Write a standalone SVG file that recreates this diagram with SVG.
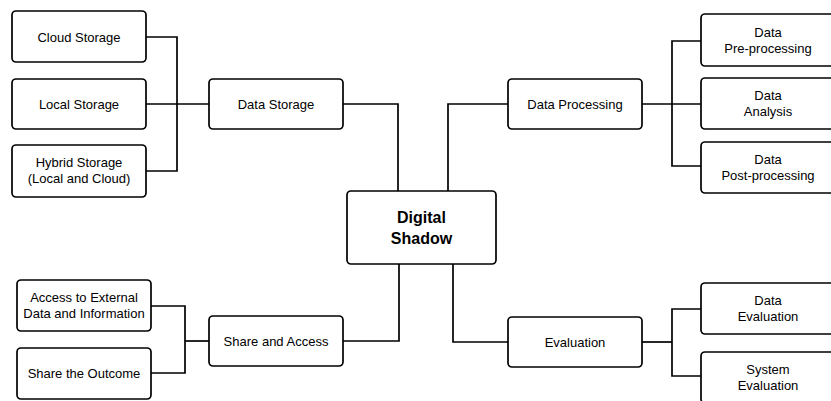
<svg xmlns="http://www.w3.org/2000/svg" width="831" height="401" viewBox="0 0 831 401">
  <style>
    .box { fill: #ffffff; stroke: #000000; stroke-width: 1.7; }
    .wire { fill: none; stroke: #000000; stroke-width: 1.7; stroke-linejoin: miter; }
    .lbl { font-family: "Liberation Sans", Arial, sans-serif; font-size: 13px; fill: #000000; text-anchor: middle; }
    .hub { font-family: "Liberation Sans", Arial, sans-serif; font-size: 16px; font-weight: bold; fill: #000000; text-anchor: middle; }
  </style>
  <rect width="831" height="401" fill="#ffffff"/>

  <!-- connectors -->
  <g id="connectors" class="wire">
    <path d="M146 37 H177 V171 H146"/>
    <path d="M146 104 H209"/>
    <path d="M343 104 H398 V191"/>
    <path d="M448 191 V104 H508"/>
    <path d="M642 104 H701"/>
    <path d="M701 41 H672 V166 H701"/>
    <path d="M151 306 H185 V373 H151"/>
    <path d="M185 341 H209"/>
    <path d="M343 341 H399 V264"/>
    <path d="M453 264 V342 H508"/>
    <path d="M642 342 H672"/>
    <path d="M701 309 H672 V376 H701"/>
  </g>

  <!-- storage branch -->
  <g id="cloud-storage">
    <rect class="box" x="12" y="11" width="134" height="51" rx="4"/>
    <text class="lbl" x="79" y="41.5">Cloud Storage</text>
  </g>
  <g id="local-storage">
    <rect class="box" x="12" y="79" width="134" height="50" rx="4"/>
    <text class="lbl" x="79" y="108.5">Local Storage</text>
  </g>
  <g id="hybrid-storage">
    <rect class="box" x="12" y="145" width="134" height="52" rx="4"/>
    <text class="lbl" x="79" y="167">Hybrid Storage</text>
    <text class="lbl" x="79" y="183">(Local and Cloud)</text>
  </g>
  <g id="data-storage">
    <rect class="box" x="209" y="79" width="134" height="50" rx="4"/>
    <text class="lbl" x="276" y="108.5">Data Storage</text>
  </g>

  <!-- hub -->
  <g id="digital-shadow">
    <rect class="box" x="347" y="191" width="149" height="73" rx="4"/>
    <text class="hub" x="421.5" y="223">Digital</text>
    <text class="hub" x="421.5" y="244">Shadow</text>
  </g>

  <!-- processing branch -->
  <g id="data-processing">
    <rect class="box" x="508" y="79" width="134" height="50" rx="4"/>
    <text class="lbl" x="575" y="108.5">Data Processing</text>
  </g>
  <g id="pre-processing">
    <rect class="box" x="701" y="14" width="134" height="52" rx="4"/>
    <text class="lbl" x="768" y="36.5">Data</text>
    <text class="lbl" x="768" y="52.5">Pre-processing</text>
  </g>
  <g id="analysis">
    <rect class="box" x="701" y="78" width="134" height="51" rx="4"/>
    <text class="lbl" x="768" y="100">Data</text>
    <text class="lbl" x="768" y="116">Analysis</text>
  </g>
  <g id="post-processing">
    <rect class="box" x="701" y="142" width="134" height="51" rx="4"/>
    <text class="lbl" x="768" y="164">Data</text>
    <text class="lbl" x="768" y="180">Post-processing</text>
  </g>

  <!-- sharing branch -->
  <g id="external-access">
    <rect class="box" x="17" y="280" width="134" height="51" rx="4"/>
    <text class="lbl" x="84" y="302">Access to External</text>
    <text class="lbl" x="84" y="318">Data and Information</text>
  </g>
  <g id="share-outcome">
    <rect class="box" x="17" y="348" width="134" height="51" rx="4"/>
    <text class="lbl" x="84" y="378">Share the Outcome</text>
  </g>
  <g id="share-access">
    <rect class="box" x="209" y="316" width="134" height="50" rx="4"/>
    <text class="lbl" x="276" y="345.5">Share and Access</text>
  </g>

  <!-- evaluation branch -->
  <g id="evaluation">
    <rect class="box" x="508" y="317" width="134" height="50" rx="4"/>
    <text class="lbl" x="575" y="346.5">Evaluation</text>
  </g>
  <g id="data-evaluation">
    <rect class="box" x="701" y="283" width="134" height="51" rx="4"/>
    <text class="lbl" x="768" y="305">Data</text>
    <text class="lbl" x="768" y="321">Evaluation</text>
  </g>
  <g id="system-evaluation">
    <rect class="box" x="701" y="352" width="134" height="51" rx="4"/>
    <text class="lbl" x="768" y="374">System</text>
    <text class="lbl" x="768" y="390">Evaluation</text>
  </g>
</svg>
